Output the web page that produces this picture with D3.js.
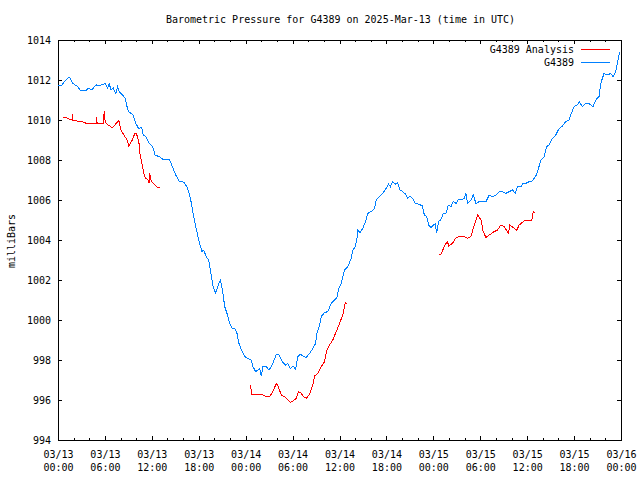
<!DOCTYPE html>
<html>
<head>
<meta charset="utf-8">
<script src="https://cdn.jsdelivr.net/npm/d3@7"></script>
<style>
  html, body { margin: 0; padding: 0; background: #fff; }
  svg { display: block; }
  text { font-family: "DejaVu Sans Mono", "Liberation Mono", monospace; font-size: 10px; fill: #000; }
</style>
</head>
<body>
<script>
// ---------------- DATA ----------------
const chartTitle = "Barometric Pressure for G4389 on 2025-Mar-13 (time in UTC)";
const yLabel = "milliBars";
const seriesNames = ["G4389 Analysis", "G4389"];
const startDate = "2025-03-13T00:00:00Z";
const endDate = "2025-03-16T00:00:00Z";
const yTicks = [994, 996, 998, 1000, 1002, 1004, 1006, 1008, 1010, 1012, 1014];

// G4389 observations: hours since 03/13 00:00 UTC, pressure (mb)
const g4389Hours = [0,0.51,0.77,1.02,1.37,1.53,1.66,1.88,2.21,2.51,2.81,3.19,3.57,3.77,4.00,4.34,4.63,4.94,5.27,5.71,
  6.04,6.34,6.55,6.77,7.06,7.40,7.62,7.83,8.26,8.59,8.77,9.03,9.32,9.61,9.96,10.30,10.72,10.89,11.23,11.66,
  12.09,12.42,12.93,13.37,14.21,14.55,15.06,15.49,16.12,16.47,16.76,17.07,17.27,17.71,18.04,18.42,18.64,18.98,19.28,19.62,
  19.83,20.17,20.55,20.77,21.03,21.32,21.61,21.96,22.30,22.60,22.89,23.14,23.45,23.87,24.29,24.73,24.93,25.28,25.57,25.79,
  26.00,26.21,26.64,26.97,27.28,27.57,27.92,28.25,28.56,28.85,29.11,29.40,29.71,30.04,30.38,30.68,30.98,31.31,31.75,32.17,
  32.59,32.94,33.10,33.45,33.66,34.09,34.51,34.94,35.36,35.66,35.91,36.22,36.64,37.06,37.49,37.70,38.04,38.26,38.34,38.64,
  38.97,39.41,39.61,40.05,40.47,40.69,41.11,41.53,41.96,42.26,42.51,42.80,43.15,43.44,43.75,44.08,44.43,44.72,45.03,45.36,
  45.70,46.21,46.60,46.85,47.14,47.40,47.71,48.00,48.25,48.42,48.68,48.98,49.28,49.62,49.91,50.26,50.55,50.90,51.23,51.54,
  51.96,52.17,52.38,52.81,53.11,53.45,53.87,54.29,54.73,54.93,55.15,55.57,56.00,56.43,56.85,57.28,57.70,58.13,58.47,58.77,
  59.20,59.49,59.83,60.26,60.68,60.89,61.19,61.45,61.75,62.17,62.47,62.81,63.23,63.66,64.09,64.51,64.94,65.36,65.58,66.00,
  66.42,66.64,67.06,67.49,67.82,68.13,68.43,68.77,69.19,69.41,69.83,70.26,70.68,70.98,71.32,71.52,71.83];
const g4389Values = [1011.75,1011.75,1011.9,1012.0,1012.12,1012.1,1012.0,1011.83,1011.75,1011.67,1011.5,1011.47,1011.45,1011.55,1011.58,1011.5,1011.67,1011.75,1011.7,1011.78,
  1011.83,1011.58,1011.83,1011.5,1011.6,1011.33,1011.67,1011.4,1011.25,1011.08,1010.75,1010.42,1010.33,1010.25,1009.83,1009.58,1009.62,1009.25,1009.17,1008.83,
  1008.67,1008.25,1008.17,1008.05,1008.05,1007.75,1007.25,1006.95,1006.88,1006.67,1006.33,1005.83,1005.33,1004.5,1003.92,1003.42,1003.5,1003.13,1003.0,1002.17,
  1001.67,1001.33,1001.83,1002.0,1001.5,1000.67,1000.33,999.83,999.58,999.58,999.33,998.83,998.5,998.17,998.08,998.0,997.67,997.42,997.5,997.58,
  997.2,997.67,997.67,997.5,997.67,997.92,998.3,998.25,998.0,997.83,997.75,997.83,997.58,997.7,997.55,998.17,998.3,998.2,998.13,998.33,
  998.58,998.83,999.33,999.75,1000.17,1000.37,1000.42,1000.83,1001.0,1001.1,1001.58,1001.83,1002.5,1002.67,1003.08,1003.5,1003.67,1004.17,1004.5,1004.37,
  1004.58,1005.0,1005.33,1005.42,1005.58,1006.0,1006.17,1006.33,1006.58,1006.8,1006.67,1006.92,1006.8,1006.87,1006.5,1006.42,1006.3,1006.08,1006.2,1006.08,
  1005.83,1005.78,1005.7,1005.25,1005.17,1004.75,1004.63,1004.75,1004.8,1004.37,1004.92,1005.03,1005.33,1005.33,1005.75,1005.67,1005.92,1005.83,1006.03,1006.0,
  1006.08,1006.33,1005.83,1006.0,1006.25,1005.83,1005.92,1005.92,1005.92,1006.08,1006.25,1006.17,1006.25,1006.42,1006.42,1006.33,1006.42,1006.5,1006.33,1006.67,
  1006.67,1006.83,1006.83,1006.92,1006.95,1007.08,1007.25,1007.58,1008.0,1008.17,1008.67,1008.75,1009.08,1009.25,1009.58,1009.7,1009.92,1010.0,1010.25,1010.67,
  1010.75,1010.92,1010.67,1010.83,1010.85,1010.75,1010.67,1011.0,1011.17,1011.83,1012.33,1012.25,1012.33,1012.17,1012.42,1012.83,1013.42];

// G4389 Analysis: hours since 03/13 00:00 UTC, pressure (mb); null = gap
const analysisHours = [0.70,1.15,1.53,1.81,1.85,1.89,2.39,3.03,3.66,4.89,4.94,5.00,5.81,5.91,6.04,6.22,6.64,6.80,7.02,7.79,
  8.04,8.43,8.85,9.06,9.49,9.83,10.05,10.34,10.47,10.76,11.02,11.23,11.53,11.66,11.74,11.87,12.17,12.51,12.80,13.02,
  18.0,
  24.64,24.73,25.37,25.79,26.21,26.64,27.06,27.48,27.92,28.12,28.56,28.98,29.40,29.71,30.04,30.47,30.77,31.11,31.31,31.75,
  32.17,32.59,32.81,33.23,33.66,34.09,34.38,34.72,35.14,35.58,36.00,36.42,36.73,36.98,
  42.0,
  48.68,48.98,49.40,49.62,49.82,49.95,50.46,50.81,51.32,51.96,52.38,52.81,53.11,53.66,54.09,54.38,54.73,55.15,55.79,56.21,
  56.64,57.06,57.61,57.79,58.34,58.64,58.98,59.49,59.74,60.26,60.60,60.77,60.98];
const analysisValues = [1010.13,1010.1,1010.03,1010.0,1010.3,1009.97,1009.95,1009.92,1009.83,1009.83,1010.13,1009.83,1009.83,1010.45,1009.9,1009.8,1009.7,1009.63,1009.65,1009.97,
  1009.5,1009.25,1009.0,1008.67,1009.0,1009.33,1009.3,1008.92,1008.33,1007.75,1007.25,1007.08,1007.0,1006.83,1007.33,1007.0,1006.83,1006.7,1006.62,1006.62,
  null,
  996.75,996.3,996.25,996.3,996.25,996.17,996.17,996.42,996.83,996.7,996.25,996.17,996.0,995.88,995.95,996.08,996.42,996.35,996.2,996.08,
  996.3,996.75,997.2,997.33,997.67,997.92,998.5,998.75,999.0,999.42,999.83,1000.25,1000.87,1000.8,
  null,
  1003.25,1003.3,1003.67,1003.83,1003.92,1003.7,1003.83,1004.08,1004.17,1004.17,1004.08,1004.17,1004.58,1005.25,1005.0,1004.42,1004.13,1004.25,1004.42,1004.5,
  1004.75,1004.67,1004.33,1004.75,1004.58,1004.47,1004.75,1004.92,1005.0,1005.0,1005.0,1005.42,1005.38];

const colors = { analysis: "#ff0000", obs: "#0080ff" };

// ---------------- CHART ----------------
const W = 640, H = 480;
const M = { left: 58, right: 621, top: 40, bottom: 440 };
const t0 = new Date(startDate), t1 = new Date(endDate);
const toDate = h => new Date(t0.getTime() + h * 3600e3);

const x = d3.scaleUtc().domain([t0, t1]).range([M.left, M.right]);
const y = d3.scaleLinear().domain([994, 1014]).range([M.bottom, M.top]);

const svg = d3.select("body").append("svg").attr("width", W).attr("height", H);
svg.append("rect").attr("width", W).attr("height", H).attr("fill", "#fff");

const majorX = d3.utcHour.every(6).range(t0, d3.utcHour.offset(t1, 1));
const minorX = d3.utcHour.every(2).range(t0, d3.utcHour.offset(t1, 1)).filter(d => d.getUTCHours() % 6 !== 0);

function styleAxis(g) {
  g.select(".domain").remove();
  g.attr("font-family", null).attr("font-size", null);
  g.selectAll("line").attr("stroke", "#000").attr("shape-rendering", "crispEdges");
}

// bottom axis
svg.append("g").attr("transform", `translate(0,${M.bottom})`)
  .call(d3.axisBottom(x).tickValues(majorX).tickSize(-4).tickPadding(18).tickFormat(d3.utcFormat("%m/%d")))
  .call(styleAxis)
  .call(g => g.selectAll(".tick text").each(function(d) {
    const t = d3.select(this);
    t.text(null).attr("y", null).attr("dy", null);
    t.append("tspan").attr("x", 0).attr("y", 18).text(d3.utcFormat("%m/%d")(d));
    t.append("tspan").attr("x", 0).attr("y", 31).text(d3.utcFormat("%H:%M")(d));
  }));
svg.append("g").attr("transform", `translate(0,${M.bottom})`)
  .call(d3.axisBottom(x).tickValues(minorX).tickSize(-2).tickFormat(""))
  .call(styleAxis);
// top axis (mirror)
svg.append("g").attr("transform", `translate(0,${M.top})`)
  .call(d3.axisTop(x).tickValues(majorX).tickSize(-4).tickFormat(""))
  .call(styleAxis);
svg.append("g").attr("transform", `translate(0,${M.top})`)
  .call(d3.axisTop(x).tickValues(minorX).tickSize(-2).tickFormat(""))
  .call(styleAxis);
// left axis
svg.append("g").attr("transform", `translate(${M.left},0)`)
  .call(d3.axisLeft(y).tickValues(yTicks).tickSize(-4).tickPadding(7).tickFormat(d3.format("d")))
  .call(styleAxis);
// right axis (mirror)
svg.append("g").attr("transform", `translate(${M.right},0)`)
  .call(d3.axisRight(y).tickValues(yTicks).tickSize(-4).tickFormat(""))
  .call(styleAxis);

// border
svg.append("rect")
  .attr("x", M.left + 0.5).attr("y", M.top + 0.5)
  .attr("width", M.right - M.left).attr("height", M.bottom - M.top)
  .attr("fill", "none").attr("stroke", "#000").attr("stroke-width", 1)
  .attr("shape-rendering", "crispEdges");

// lines
const obsData = g4389Hours.map((h, i) => ({ t: toDate(h), v: g4389Values[i] }));
const anaData = analysisHours.map((h, i) => ({ t: toDate(h), v: analysisValues[i] }));
const line = d3.line().defined(d => d.v != null).x(d => x(d.t)).y(d => y(d.v));

svg.append("path").datum(obsData).attr("d", line)
  .attr("fill", "none").attr("stroke", colors.obs).attr("stroke-width", 1)
  .attr("shape-rendering", "crispEdges");
svg.append("path").datum(anaData).attr("d", line)
  .attr("fill", "none").attr("stroke", colors.analysis).attr("stroke-width", 1)
  .attr("shape-rendering", "crispEdges");

// title
svg.append("text").attr("x", (M.left + M.right) / 2 + 1).attr("y", 23)
  .attr("text-anchor", "middle").text(chartTitle);

// y label
svg.append("text").attr("transform", "translate(15,241) rotate(-90)")
  .attr("text-anchor", "middle").text(yLabel);

// legend
const legend = [
  { name: seriesNames[0], color: colors.analysis },
  { name: seriesNames[1], color: colors.obs }
];
const lg = svg.append("g");
legend.forEach((d, i) => {
  const yy = 49.5 + i * 13;
  lg.append("text").attr("x", 574).attr("y", yy).attr("dy", "0.35em")
    .attr("text-anchor", "end").text(d.name);
  lg.append("line").attr("x1", 581).attr("x2", 610).attr("y1", yy).attr("y2", yy)
    .attr("stroke", d.color).attr("stroke-width", 1).attr("shape-rendering", "crispEdges");
});
</script>
</body>
</html>
